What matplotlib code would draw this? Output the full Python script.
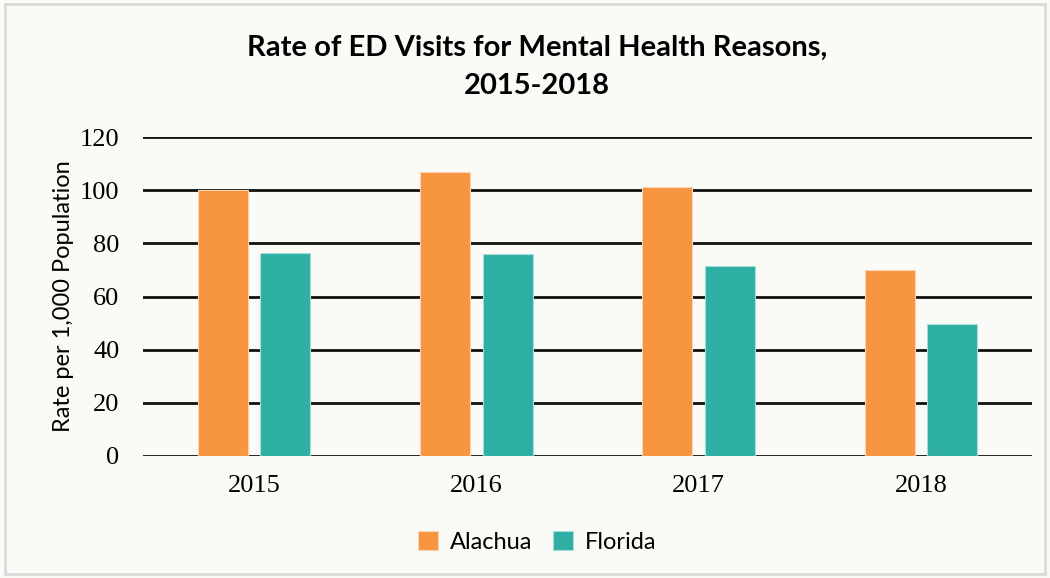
import matplotlib.pyplot as plt
import numpy as np
from matplotlib.patches import Rectangle

# Data
years = ["2015", "2016", "2017", "2018"]
alachua = [100.1, 106.8, 101.2, 69.8]
florida = [76.4, 76.0, 71.5, 49.6]
y_ticks = [0, 20, 40, 60, 80, 100, 120]

bg = "#FAFAF6"
orange = "#F79540"
teal = "#2EAFA4"

fig = plt.figure(figsize=(10.5, 5.78), dpi=100, facecolor=bg)
ax = fig.add_axes([143 / 1050, 1 - 456 / 578, 889 / 1050, 319 / 578])
ax.set_facecolor(bg)

# Light gray border around the whole figure
fig.patches.append(Rectangle((5 / 1050, 4 / 578), 1040 / 1050, 570 / 578,
                             transform=fig.transFigure, fill=False,
                             edgecolor="#D9D9D9", linewidth=2))

x = np.arange(len(years))
w = 0.225
off = 0.141
ax.bar(x - off, alachua, w, color=orange, edgecolor="#FBD3B0", linewidth=0.8,
       label="Alachua", zorder=3)
ax.bar(x + off, florida, w, color=teal, edgecolor="#A9DDD8", linewidth=0.8,
       label="Florida", zorder=3)

ax.set_xlim(-0.5, 3.5)
ax.set_ylim(0, 120)
ax.set_yticks(y_ticks)
ax.set_yticklabels([str(t) for t in y_ticks], family="Liberation Serif", fontsize=19)
ax.set_xticks(x)
ax.set_xticklabels(years, family="Liberation Serif", fontsize=19)
ax.tick_params(axis="y", length=0, pad=17)
ax.tick_params(axis="x", length=0, pad=14)
ax.grid(axis="y", color="#111111", linewidth=2, zorder=1)
for s in ax.spines.values():
    s.set_visible(False)

ax.set_ylabel("Rate per 1,000 Population", family="Lato", fontsize=17, labelpad=4)

fig.text(537 / 1050, 1 - 48 / 578, "Rate of ED Visits for Mental Health Reasons,",
         ha="center", va="center", family="Lato", fontweight="bold", fontsize=21)
fig.text(537 / 1050, 1 - 86 / 578, "2015-2018",
         ha="center", va="center", family="Lato", fontweight="bold", fontsize=21)

leg = fig.legend(loc="center", bbox_to_anchor=(537 / 1050, 1 - 542 / 578), ncol=2,
                 frameon=False, prop={"family": "Lato", "size": 17},
                 handlelength=0.85, handleheight=0.85, columnspacing=0.9,
                 handletextpad=0.5)

fig.savefig("out.png", dpi=100, facecolor=bg)
